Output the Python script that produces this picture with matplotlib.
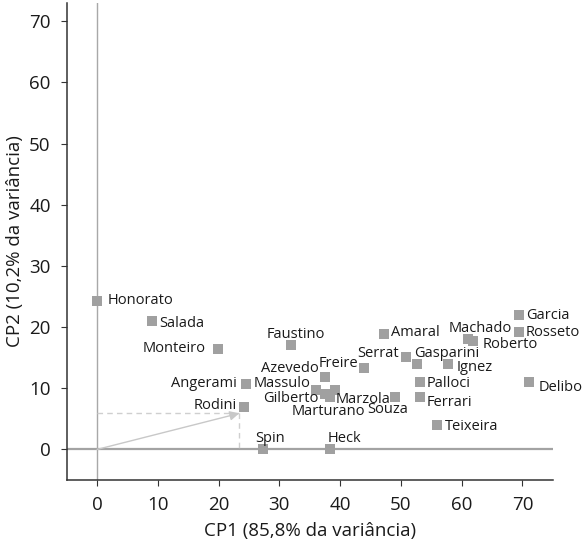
import matplotlib.pyplot as plt

plt.rcParams['font.family'] = ['Open Sans', 'DejaVu Sans']

names = ['Honorato', 'Salada', 'Monteiro', 'Faustino', 'Azevedo', 'Freire',
         'Angerami', 'Massulo', 'Gilberto', 'Marzola', 'Marturano', 'Souza',
         'Rodini', 'Spin', 'Heck', 'Amaral', 'Serrat', 'Gasparini', 'Ignez',
         'Palloci', 'Ferrari', 'Teixeira', 'Machado', 'Roberto', 'Garcia',
         'Rosseto', 'Delibo']
cp1 = [0.0, 9.0, 19.9, 31.9, 37.5, 43.9,
       24.5, 36.0, 37.5, 39.1, 38.4, 49.0,
       24.2, 27.3, 38.4, 47.2, 50.8, 52.6, 57.8,
       53.1, 53.1, 55.9, 61.1, 61.9, 69.5,
       69.5, 71.0]
cp2 = [24.3, 21.0, 16.5, 17.1, 11.9, 13.3,
       10.7, 9.7, 9.0, 9.7, 8.6, 8.6,
       7.0, 0.0, 0.0, 18.8, 15.1, 14.0, 14.0,
       11.1, 8.6, 4.0, 18.1, 17.7, 21.9,
       19.2, 11.0]

# exemplo destacado (Rodini) com projeções
ex_x, ex_y = 23.4, 5.9

# posição dos rótulos em pixels relativa ao ponto: dx, dy (para baixo), alinhamento
offsets = {
    'Honorato': (10.6, 0, 'left'), 'Salada': (7, 3, 'left'),
    'Monteiro': (-12, 0, 'right'), 'Faustino': (4.5, -10, 'center'),
    'Azevedo': (-6, -8, 'right'), 'Freire': (-6, -4.6, 'right'),
    'Angerami': (-9.6, 0, 'right'), 'Massulo': (-5.3, -6.7, 'right'),
    'Gilberto': (-6.4, 4.3, 'right'), 'Marzola': (1.4, 9.6, 'left'),
    'Marturano': (-2.4, 14.7, 'center'), 'Souza': (-7, 12.3, 'center'),
    'Rodini': (-7.4, -1, 'right'), 'Spin': (6.8, -11, 'center'),
    'Heck': (13.7, -11, 'center'), 'Amaral': (7.3, -1.7, 'left'),
    'Serrat': (-6.7, -4, 'right'), 'Gasparini': (-2.3, -10, 'left'),
    'Ignez': (8, 4, 'left'), 'Palloci': (7, 1.7, 'left'),
    'Ferrari': (7, 5.7, 'left'), 'Teixeira': (8.4, 1.7, 'left'),
    'Machado': (11.5, -10, 'center'), 'Roberto': (9.3, 3.6, 'left'),
    'Garcia': (6.7, 0, 'left'), 'Rosseto': (6.7, 0, 'left'),
    'Delibo': (10, 5, 'left'),
}

fig = plt.figure(figsize=(5.85, 5.53), dpi=100)
ax = fig.add_axes([0.114, 0.132, 0.831, 0.8626])

ax.axhline(0, color='#a3a3a3', lw=1.6, zorder=1)
ax.axvline(0, color='#a8a8a8', lw=1.0, zorder=1)

ax.plot([0, ex_x], [ex_y, ex_y], ls=(0, (4, 3)), color='#cfcfcf', lw=1)
ax.plot([ex_x, ex_x], [ex_y, 0], ls=(0, (4, 3)), color='#cfcfcf', lw=1)
ax.annotate('', xy=(ex_x, ex_y), xytext=(0, 0),
            arrowprops=dict(arrowstyle='-|>', color='#c8c8c8', lw=1,
                            mutation_scale=14, shrinkA=0, shrinkB=0))

ax.scatter(cp1, cp2, marker='s', s=52, color='#a0a0a0', linewidths=0, zorder=3)

for n, x, y in zip(names, cp1, cp2):
    dx, dy, ha = offsets[n]
    ax.annotate(n, (x, y), xytext=(dx * 0.72, -dy * 0.72),
                textcoords='offset points', ha=ha, va='center',
                fontsize=10.5, color='#1a1a1a', annotation_clip=False)

ax.set_xlim(-5, 75)
ax.set_ylim(-5, 73)
ax.set_xticks(range(0, 71, 10))
ax.set_yticks(range(0, 71, 10))
ax.spines['top'].set_visible(False)
ax.spines['right'].set_visible(False)
for s in ['left', 'bottom']:
    ax.spines[s].set_color('#333333')
    ax.spines[s].set_linewidth(1.1)
ax.tick_params(labelsize=13.5, length=4.5, pad=7, color='#333333', labelcolor='#1a1a1a')
ax.set_xlabel('CP1 (85,8% da variância)', fontsize=13.5, labelpad=6, color='#1a1a1a')
ax.set_ylabel('CP2 (10,2% da variância)', fontsize=13.5, labelpad=4, color='#1a1a1a')

fig.savefig('out.png', dpi=100)
